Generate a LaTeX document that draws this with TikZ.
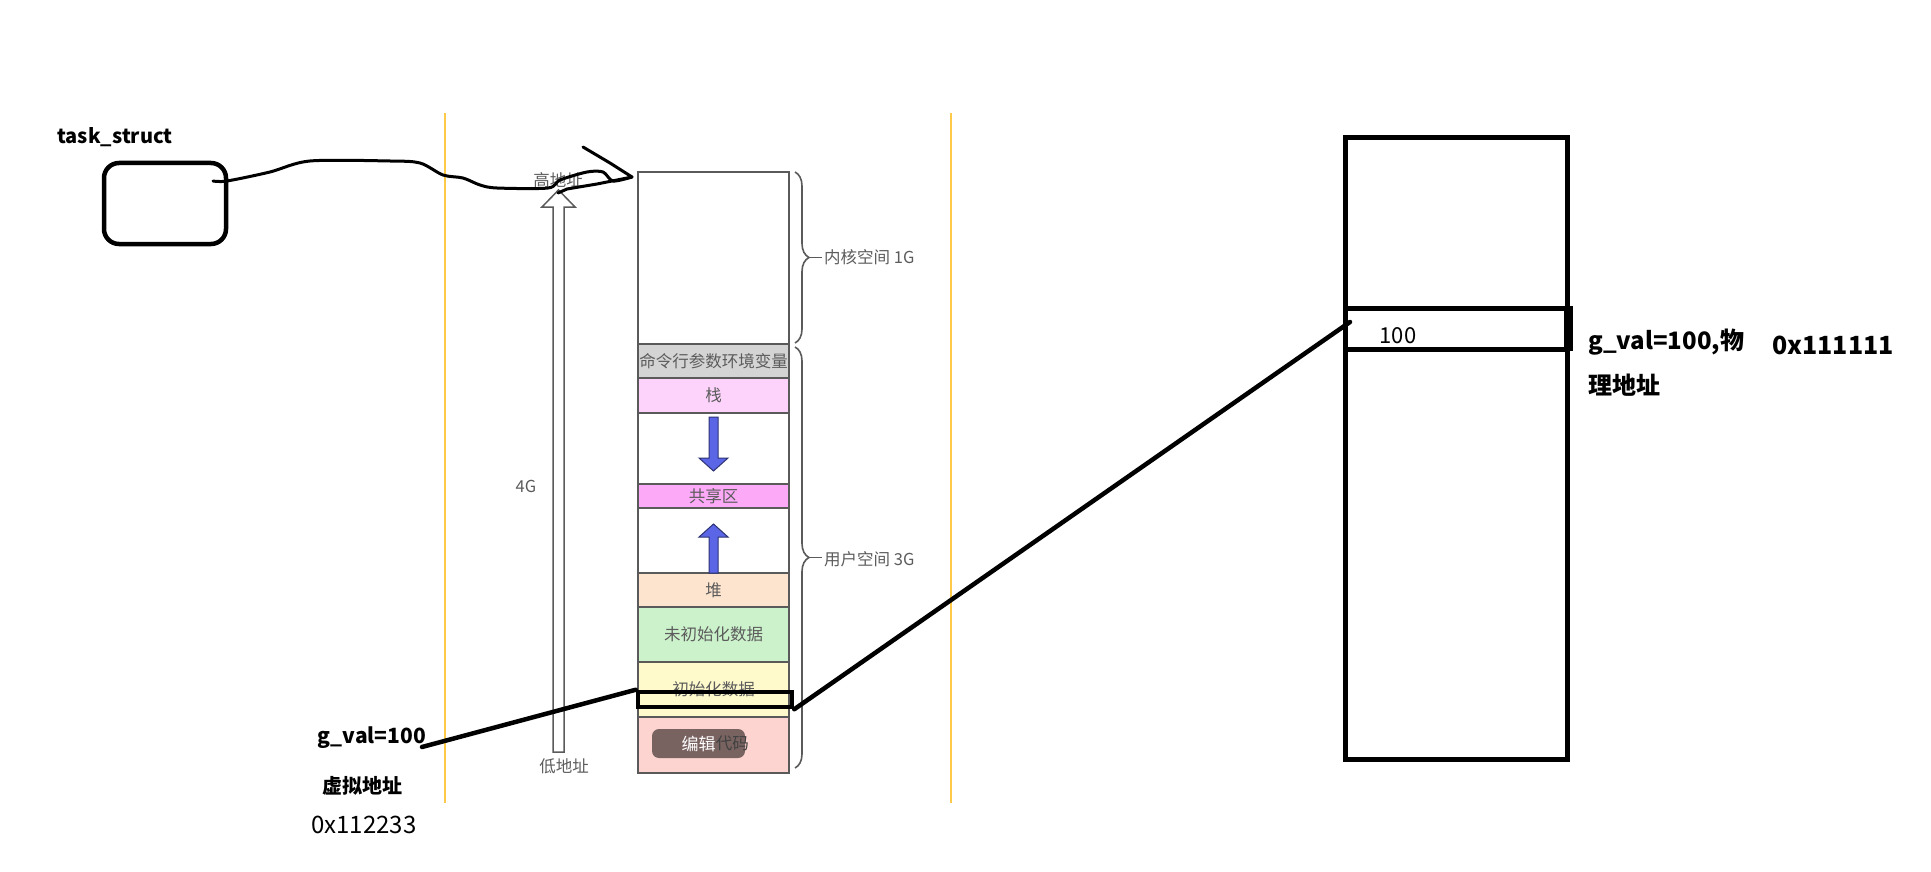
\documentclass[tikz,border=0pt]{standalone}
\usepackage{fontspec}
\setmainfont{Noto Sans CJK SC}
\usetikzlibrary{decorations.pathreplacing}
\newcommand\fsz[1]{\fontsize{#1}{#1}\selectfont}
\definecolor{ora}{HTML}{FFC94A}
\definecolor{edge}{HTML}{5A5A5A}
\definecolor{lbl}{HTML}{5C5C5C}
\definecolor{cmdc}{HTML}{D4D4D4}
\definecolor{stackc}{HTML}{FDD3FC}
\definecolor{sharec}{HTML}{FCA9F8}
\definecolor{heapc}{HTML}{FDE4CE}
\definecolor{bssc}{HTML}{CCF2CC}
\definecolor{datac}{HTML}{FEFACC}
\definecolor{codec}{HTML}{FDD4D0}
\definecolor{arrowc}{HTML}{5A66E6}
\definecolor{editc}{HTML}{6B5756}
\tikzset{
  seg/.style={draw=edge, line width=2pt, minimum width=151pt, inner sep=0pt, text=lbl, font=\fsz{16.5}},
  oline/.style={draw=ora, line width=1.5pt},
  hand/.style={draw=black, line width=3pt, line cap=round, line join=round},
  thickline/.style={draw=black, line width=4.5pt, line cap=round},
  brc/.style={draw=edge, line width=1.6pt, decorate, decoration={brace, amplitude=14pt}},
  glbl/.style={text=lbl, font=\fsz{16.5}, inner sep=0pt},
  blbl/.style={font=\bfseries\fsz{21}, inner sep=0pt},
  barrow/.style={fill=arrowc, draw=arrowc!50!black, line width=1pt},
}
\begin{document}
\begin{tikzpicture}[x=1pt, y=-1pt]
\useasboundingbox[fill=white] (0,0) rectangle (1931,872);

% orange guide lines
\draw[oline] (445,113) -- (445,803);
\draw[oline] (951,113) -- (951,803);

% task_struct
\node[blbl, font=\bfseries\fsz{20}] (tslbl) at (115,137) {task\_struct};
\node[draw, line width=4.5pt, rounded corners=15pt, minimum width=122pt, minimum height=81pt] (task) at (165,203.5) {};

% memory layout column
\node[seg] (kernel) at (713.5,258) [minimum height=172pt] {};
\node[seg, fill=cmdc] (cmd) at (713.5,361) [minimum height=34pt] {命令行参数环境变量};
\node[seg, fill=stackc] (stack) at (713.5,395.5) [minimum height=35pt] {栈};
\node[seg, fill=white] (gap1) at (713.5,448.5) [minimum height=71pt] {};
\node[seg, fill=sharec] (share) at (713.5,496) [minimum height=24pt] {共享区};
\node[seg, fill=white] (gap2) at (713.5,540.5) [minimum height=65pt] {};
\node[seg, fill=heapc] (heap) at (713.5,590) [minimum height=34pt] {堆};
\node[seg, fill=bssc] (bss) at (713.5,634.5) [minimum height=55pt] {未初始化数据};
\node[seg, fill=datac] (data) at (713.5,689.5) [minimum height=55pt] {初始化数据};
\node[seg, fill=codec] (code) at (713.5,745) [minimum height=56pt] {};

% edit overlay
\node[fill=editc, fill opacity=0.9, rounded corners=7pt, minimum width=93pt, minimum height=29pt, inner sep=0pt] (edit) at (698.5,743.5) {};
\node[text=white, inner sep=0pt, font=\fsz{17}] (editlbl) at (698.5,743.5) {编辑};
\node[text=lbl!70!black, inner sep=0pt, font=\fsz{16.5}, anchor=west] (codelbl) at (editlbl.east) {代码};

% blue growth arrows
\draw[barrow] (709,417) -- (718,417) -- (718,458) -- (728,458) -- (713.5,471) -- (699,458) -- (709,458) -- cycle;
\draw[barrow] (713.5,524) -- (728,537) -- (718,537) -- (718,573) -- (709,573) -- (709,537) -- (699,537) -- cycle;

% braces
\draw[brc] (795,172) -- (795,343);
\draw[brc] (795,347) -- (795,768);
\draw[draw=edge, line width=1.6pt] (809,257.5) -- (822,257.5);
\draw[draw=edge, line width=1.6pt] (809,557.5) -- (822,557.5);
\node[glbl, anchor=west] (klbl) at (824,257) {内核空间 1G};
\node[glbl, anchor=west] (ulbl) at (824,559) {用户空间 3G};

% address arrow
\draw[draw=edge, line width=1.5pt, fill=white] (553,752) -- (564,752) -- (564,207) -- (575,207) -- (558.5,190) -- (542,207) -- (553,207) -- cycle;
\node[glbl] (hi) at (558,180) {高地址};
\node[glbl] (lo) at (564,766) {低地址};
\node[glbl] (fourg) at (526,486) {4G};

% hand drawn pointer from task_struct
\coordinate (hs) at (213,181);
\coordinate (ht) at (632,177);
\draw[hand] plot[smooth, tension=0.5] coordinates {(hs) (227,181) (270,172) (310,161) (390,161) (420,163) (443,175) (463,178) (480,185) (497,188) (548,188) (560,180) (587,172) (603,172) (613,181) (ht)};
\draw[hand] (ht) -- (597,184) -- (567,189) -- (558,193);
\draw[hand] (583,147) -- (610,163) -- (ht);

% g_val virtual
\node[thickline, draw, minimum width=154pt, minimum height=15pt, inner sep=0pt, fill=none] (grect) at (715,699.5) {};
\node[blbl] (gvall) at (372,738) {g\_val=100};
\node[blbl, font=\bfseries\fsz{20}] (virt) at (362,786) {虚拟地址};
\node[inner sep=0pt, font=\fsz{24}] (vaddr) at (364,825) {0x112233};

% physical memory
\node[draw, line width=5pt, minimum width=222pt, minimum height=621pt, inner sep=0pt] (phys) at (1456,448.5) {};
\node[draw, line width=5pt, minimum width=222pt, minimum height=41pt, inner sep=0pt] (prow) at (1456,328.5) {};
\fill (1564,306) rectangle (1573,351);
\node[inner sep=0pt, font=\fsz{22}] (pval) at (1398,336) {100};
\node[blbl, font=\bfseries\fsz{24}, anchor=west] (pl1) at (1588,342) {g\_val=100,物};
\node[blbl, font=\bfseries\fsz{24}, anchor=west] (pl2) at (1588,385) {理地址};
\node[blbl, font=\bfseries\fsz{25}, anchor=west] (paddr) at (1772,345) {0x111111};

% mapping lines
\coordinate (gvs) at (422,747);
\coordinate (pin) at (1350,322);
\draw[thickline] (gvs) -- (grect.north west);
\draw[thickline] (grect.south east) -- (pin);
\end{tikzpicture}
\end{document}
